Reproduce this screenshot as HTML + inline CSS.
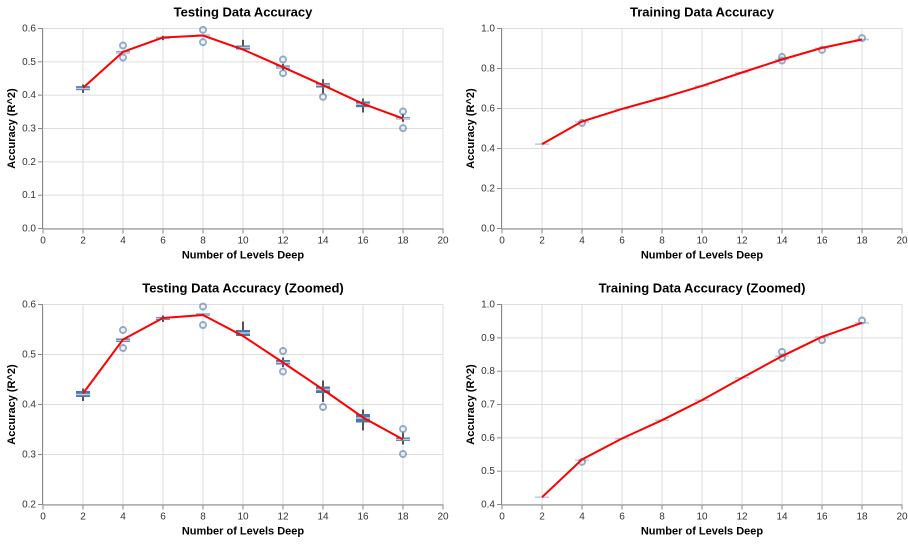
<!DOCTYPE html>
<html><head><meta charset="utf-8"><style>
body{margin:0;background:#fff;font-family:"Liberation Sans",Arial,sans-serif}
svg text{font-family:"Liberation Sans",Arial,sans-serif}
</style></head><body>
<svg id="chart" width="908" height="542" xmlns="http://www.w3.org/2000/svg"></svg>
<script>
const depths=[2,4,6,8,10,12,14,16,18];
const testMean=[0.422,0.53,0.573,0.579,0.537,0.484,0.43,0.374,0.33];
const testMedian=[0.42,0.528,0.572,0.579,0.543,0.484,0.43,0.373,0.33];
const testQ1=[0.415,0.525,0.569,0.577,0.537,0.48,0.423,0.364,0.327];
const testQ3=[0.427,0.532,0.575,0.582,0.549,0.489,0.436,0.381,0.334];
const testLo=[0.407,0.525,0.565,0.577,0.537,0.475,0.405,0.348,0.32];
const testHi=[0.432,0.532,0.578,0.582,0.566,0.494,0.448,0.39,0.344];
const testOutX=[4,4,8,8,12,12,14,18,18];
const testOutY=[0.549,0.513,0.596,0.559,0.507,0.466,0.395,0.351,0.301];
const trainMean=[0.422,0.535,0.598,0.653,0.713,0.78,0.845,0.903,0.945];
const trainMedian=[0.422,0.533,0.598,0.653,0.713,0.78,0.845,0.902,0.945];
const trainQ1=[0.421,0.532,0.597,0.652,0.712,0.779,0.843,0.9,0.944];
const trainQ3=[0.423,0.535,0.599,0.654,0.714,0.781,0.847,0.905,0.946];
const trainOutX=[4,14,14,16,18];
const trainOutY=[0.528,0.858,0.84,0.893,0.952];
const xTicks=[0,2,4,6,8,10,12,14,16,18,20];
const yTicksFull=[0,0.1,0.2,0.3,0.4,0.5,0.6];
const yTicksZoom=[0.2,0.3,0.4,0.5,0.6];
const yTicksTrain=[0,0.2,0.4,0.6,0.8,1.0];
const yTicksTrainZoom=[0.4,0.5,0.6,0.7,0.8,0.9,1.0];

const NS="http://www.w3.org/2000/svg";
const svg=document.getElementById('chart');
function mk(tag,attrs,parent){const e=document.createElementNS(NS,tag);for(const k in attrs)e.setAttribute(k,attrs[k]);(parent||svg).appendChild(e);return e;}

function panel(key,ox,oy,title,yTicks,ymin,ymax,fmt,d){
  const W=400,H=200;
  const g=mk('g',{transform:`translate(${ox},${oy})`});
  
  
  const x=v=>v/20*W, y=v=>H-(v-ymin)/(ymax-ymin)*H;
  xTicks.forEach(t=>{const l=mk('line',{x1:x(t),x2:x(t),y1:0,y2:H,stroke:'#ddd'},g);});
  yTicks.forEach(t=>{const l=mk('line',{x1:0,x2:W,y1:y(t),y2:y(t),stroke:'#ddd'},g);});
  const xa=mk('line',{x1:0,x2:W,y1:H+0.5,y2:H+0.5,stroke:'#888'},g);
  
  const ya=mk('line',{x1:-0.5,x2:-0.5,y1:0,y2:H,stroke:'#888'},g);
  
  xTicks.forEach(t=>{mk('line',{x1:x(t),x2:x(t),y1:H,y2:H+5,stroke:'#888'},g);
    const tx=mk('text',{x:x(t),y:H+15,'font-size':10,fill:'#333','text-anchor':'middle'},g);tx.textContent=t;
    });
  yTicks.forEach(t=>{mk('line',{x1:-5,x2:0,y1:y(t),y2:y(t),stroke:'#888'},g);
    const tx=mk('text',{x:-7,y:y(t)+3,'font-size':10,fill:'#333','text-anchor':'end'},g);tx.textContent=t.toFixed(1);
    });
  const tt=mk('text',{x:W/2,y:-12,'font-size':13,'font-weight':'bold',fill:'#000','text-anchor':'middle'},g);tt.textContent=title;
  
  const xt=mk('text',{x:W/2,y:H+30,'font-size':11,'font-weight':'bold',fill:'#000','text-anchor':'middle'},g);xt.textContent='Number of Levels Deep';
  
  const yt=mk('text',{x:0,y:0,'font-size':11,'font-weight':'bold',fill:'#000','text-anchor':'middle',transform:`translate(-28,${H/2}) rotate(-90)`},g);yt.textContent='Accuracy (R^2)';
  
  depths.forEach((dv,i)=>{
    if(d.lo){const w=mk('line',{x1:x(dv),x2:x(dv),y1:y(d.lo[i]),y2:y(d.hi[i]),stroke:'#555','stroke-width':2},g);
      }
    const b=mk('rect',{x:x(dv)-7,width:14,y:y(d.q3[i]),height:Math.max(1,y(d.q1[i])-y(d.q3[i])),fill:'#4c78a8',opacity:d.lo?1:0.3},g);
    
    const m=mk('line',{x1:x(dv)-7,x2:x(dv)+7,y1:y(d.med[i]),y2:y(d.med[i]),stroke:'#b8cde3','stroke-width':1.5},g);
    
  });
  d.ox.forEach((dv,i)=>{const c=mk('circle',{cx:x(dv),cy:y(d.oy[i]),r:3,fill:'none',stroke:'#4c78a8','stroke-width':2,opacity:0.6},g);
    });
  const p=mk('polyline',{points:depths.map((dv,i)=>x(dv)+','+y(d.mean[i])).join(' '),fill:'none',stroke:'#f00','stroke-width':2},g);
  
}
const testD={mean:testMean,med:testMedian,q1:testQ1,q3:testQ3,lo:testLo,hi:testHi,ox:testOutX,oy:testOutY};
const trainD={mean:trainMean,med:trainMedian,q1:trainQ1,q3:trainQ3,ox:trainOutX,oy:trainOutY};
panel('testing',43,28.5,'Testing Data Accuracy',yTicksFull,0,0.6,1,testD);
panel('training',502,28.5,'Training Data Accuracy',yTicksTrain,0,1,1,trainD);
panel('testing-zoomed',43,304.5,'Testing Data Accuracy (Zoomed)',yTicksZoom,0.2,0.6,1,testD);
panel('training-zoomed',502,304.5,'Training Data Accuracy (Zoomed)',yTicksTrainZoom,0.4,1,1,trainD);
</script>
</body></html>
